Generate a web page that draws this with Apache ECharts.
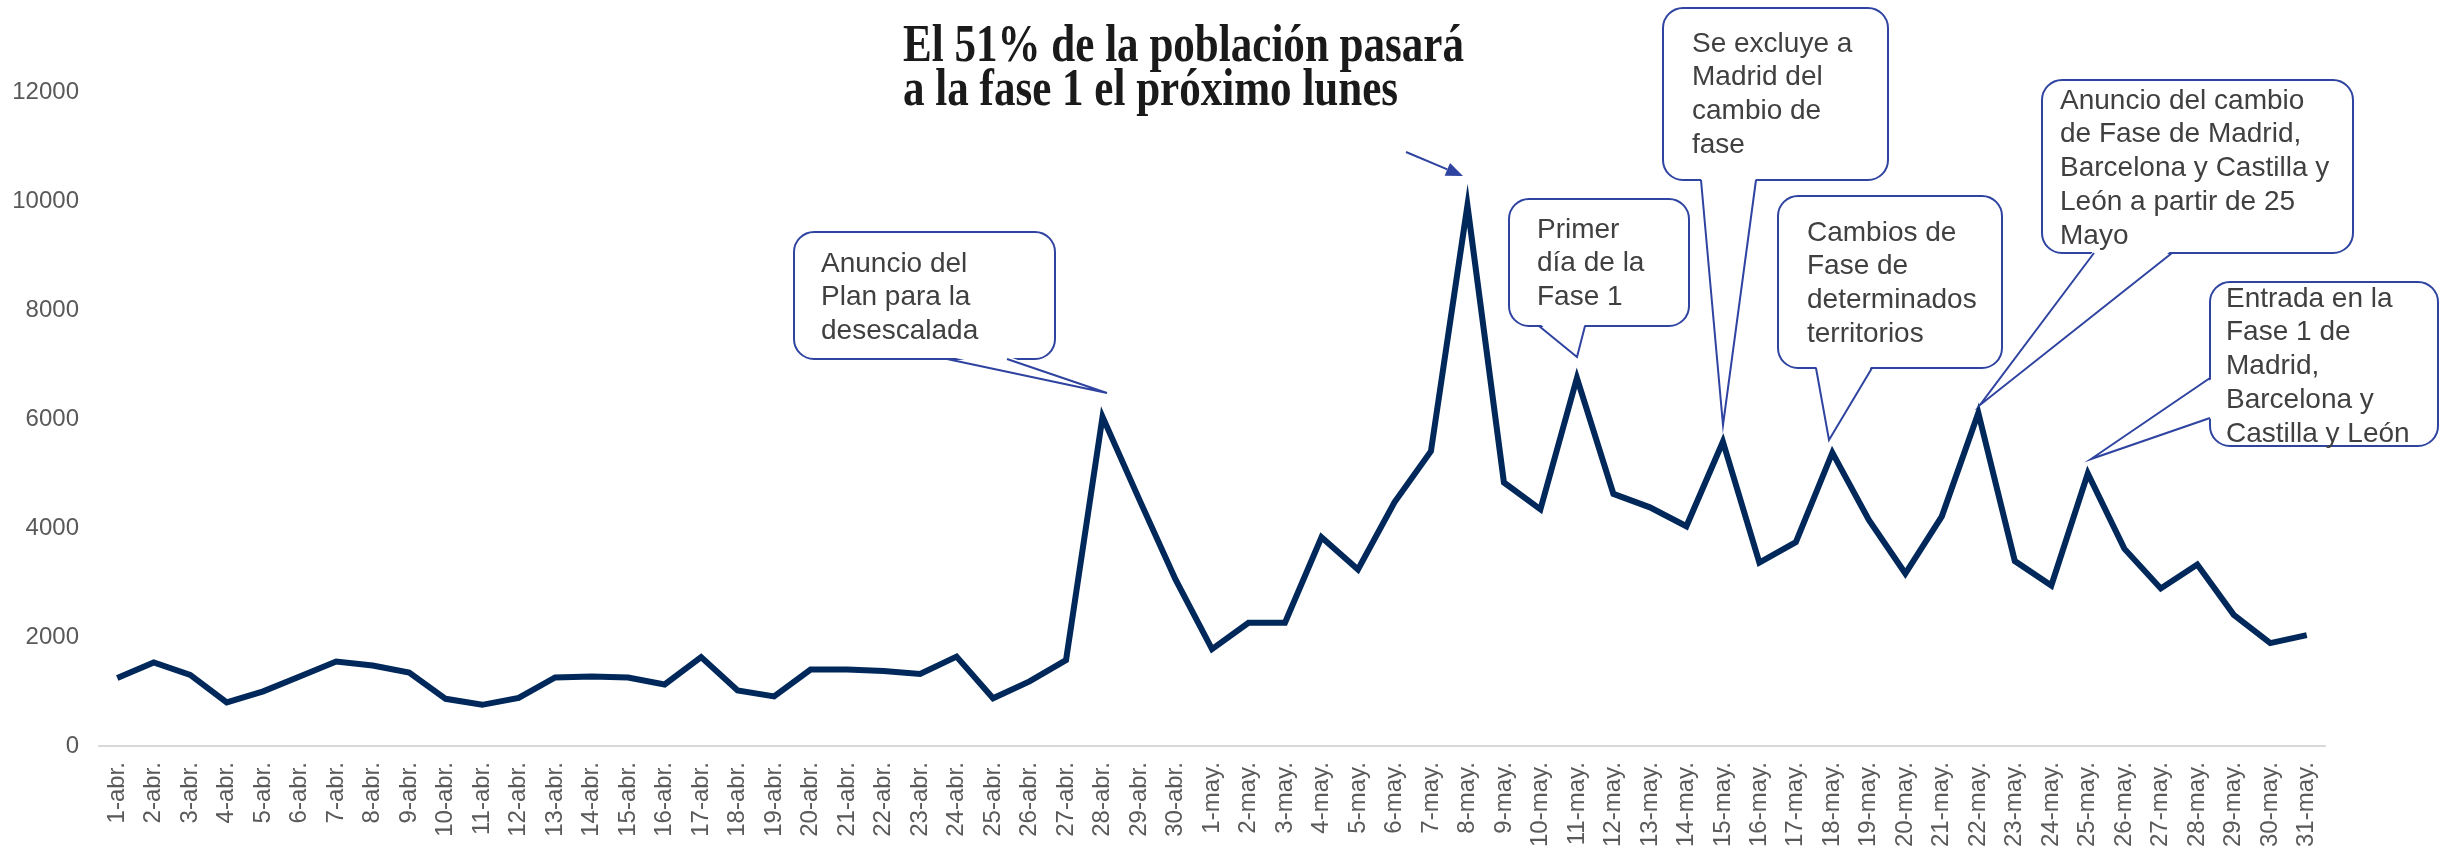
<!DOCTYPE html>
<html>
<head>
<meta charset="utf-8">
<script src="https://cdn.jsdelivr.net/npm/echarts@6/dist/echarts.min.js"></script>
<style>
html,body{margin:0;padding:0;background:#fff;}
#chart{width:2443px;height:850px;}
</style>
</head>
<body>
<div id="chart"></div>
<script>
var categoriesApril = ["1-abr.","2-abr.","3-abr.","4-abr.","5-abr.","6-abr.","7-abr.","8-abr.","9-abr.","10-abr.","11-abr.","12-abr.","13-abr.","14-abr.","15-abr.","16-abr.","17-abr.","18-abr.","19-abr.","20-abr.","21-abr.","22-abr.","23-abr.","24-abr.","25-abr.","26-abr.","27-abr.","28-abr.","29-abr.","30-abr."];
var categoriesMay = ["1-may.","2-may.","3-may.","4-may.","5-may.","6-may.","7-may.","8-may.","9-may.","10-may.","11-may.","12-may.","13-may.","14-may.","15-may.","16-may.","17-may.","18-may.","19-may.","20-may.","21-may.","22-may.","23-may.","24-may.","25-may.","26-may.","27-may.","28-may.","29-may.","30-may.","31-may."];
var valuesApril = [1250,1533,1305,803,1004,1277,1551,1478,1350,867,757,885,1259,1277,1259,1131,1633,1022,912,1405,1405,1378,1323,1642,876,1186,1578,6040,4535,3057];
var valuesMay = [1779,2263,2263,3832,3239,4471,5411,9918,4836,4343,6752,4626,4380,4033,5584,3367,3741,5383,4151,3166,4215,6113,3394,2947,5000,3622,2892,3330,2409,1889,2035];
var yTicks = {min:0, max:12000, interval:2000};

var titleLines = ["El 51% de la población pasará", "a la fase 1 el próximo lunes"];
var calloutTexts = [
  "Anuncio del\nPlan para la\ndesescalada",
  "Primer\ndía de la\nFase 1",
  "Se excluye a\nMadrid del\ncambio de\nfase",
  "Cambios de\nFase de\ndeterminados\nterritorios",
  "Anuncio del cambio\nde Fase de Madrid,\nBarcelona y Castilla y\nLeón a partir de 25\nMayo",
  "Entrada en la\nFase 1 de\nMadrid,\nBarcelona y\nCastilla y León"
];

var categories = categoriesApril.concat(categoriesMay);
var values = valuesApril.concat(valuesMay);

// callout layout (pixels): box rect, text origin, tail base points and tip
var callouts = [
  {box:[794,232,261,127], text:[821,247], tail:[[947,359],[1007,359]], tip:[1107,393], side:'bottom'},
  {box:[1509,199,180,127], text:[1537,213], tail:[[1539,326],[1585,326]], tip:[1577,357], side:'bottom'},
  {box:[1663,8,225,172], text:[1692,27], tail:[[1701,180],[1756,180]], tip:[1723,425], side:'bottom'},
  {box:[1778,196,224,172], text:[1807,216], tail:[[1816,368],[1872,368]], tip:[1829,440], side:'bottom'},
  {box:[2042,80,311,173], text:[2060,84], tail:[[2094,253],[2172,253]], tip:[1980,405], side:'bottom'},
  {box:[2210,282,228,164], text:[2226,282], tail:[[2210,378],[2210,418]], tip:[2091,459], side:'left'}
];

var blue = '#2F43A0';
var graphics = [];
callouts.forEach(function(c, i){
  var b = c.box;
  graphics.push({type:'rect', z:100, shape:{x:b[0], y:b[1], width:b[2], height:b[3], r:20},
    style:{fill:'#fff', stroke:blue, lineWidth:2}});
  var p1 = c.tail[0], p2 = c.tail[1];
  var q1, q2;
  if (c.side === 'bottom') { q1 = [p1[0], p1[1]-3]; q2 = [p2[0], p2[1]-3]; }
  else { q1 = [p1[0]+3, p1[1]]; q2 = [p2[0]+3, p2[1]]; }
  graphics.push({type:'polygon', z:101, shape:{points:[q1, c.tip, q2]}, style:{fill:'#fff', stroke:null}});
  graphics.push({type:'polyline', z:102, shape:{points:[p1, c.tip, p2]}, style:{stroke:blue, lineWidth:2, fill:null}});
  graphics.push({type:'text', z:103, x:c.text[0], y:c.text[1],
    style:{text:calloutTexts[i], font:'28px "Liberation Sans", Arial, sans-serif', fill:'#404040', lineHeight:33.8, verticalAlign:'top', align:'left'}});
});

// title with condensed look
var titleFont = 'bold 52px "Liberation Serif", "Times New Roman", serif';
var cv = document.createElement('canvas').getContext('2d');
cv.font = titleFont;
var w1 = cv.measureText(titleLines[0]).width;
var sx = 561 / w1;
[[titleLines[0], 48],[titleLines[1], 92]].forEach(function(t){
  graphics.push({type:'text', z:100, x:903, y:t[1], scaleX:sx, originX:0, originY:0,
    style:{text:t[0], font:titleFont, fill:'#1a1a1a', verticalAlign:'middle', align:'left'}});
});

// arrow
var a0 = [1406,152], a1 = [1463,176];
var dx = a1[0]-a0[0], dy = a1[1]-a0[1], len = Math.sqrt(dx*dx+dy*dy);
var ux = dx/len, uy = dy/len, hl = 17, hw = 7;
var hb = [a1[0]-ux*hl, a1[1]-uy*hl];
graphics.push({type:'line', z:100, shape:{x1:a0[0], y1:a0[1], x2:hb[0], y2:hb[1]}, style:{stroke:blue, lineWidth:2}});
graphics.push({type:'polygon', z:100, shape:{points:[a1, [hb[0]-uy*hw, hb[1]+ux*hw], [hb[0]+uy*hw, hb[1]-ux*hw]]}, style:{fill:blue}});

var chart = echarts.init(document.getElementById('chart'), null, {renderer:'canvas'});
chart.setOption({
  backgroundColor:'#fff',
  animation:false,
  grid:{left:99, right:118, top:92, bottom:103.5, containLabel:false},
  xAxis:{
    type:'category', data:categories, boundaryGap:true,
    axisLine:{show:true, lineStyle:{color:'#d9d9d9', width:2}},
    axisTick:{show:false},
    axisLabel:{interval:0, rotate:90, fontSize:24, color:'#595959', margin:16, fontFamily:'"Liberation Sans", Arial, sans-serif'}
  },
  yAxis:{
    type:'value', min:yTicks.min, max:yTicks.max, interval:yTicks.interval,
    axisLine:{show:false}, axisTick:{show:false}, splitLine:{show:false},
    axisLabel:{fontSize:24, color:'#595959', margin:20, fontFamily:'"Liberation Sans", Arial, sans-serif',
      formatter:function(v){ return String(v); }}
  },
  series:[{
    type:'line', data:values, symbol:'none', smooth:false,
    lineStyle:{color:'#00285A', width:6, join:'miter'}
  }],
  graphic:{elements:graphics}
});
</script>
</body>
</html>
